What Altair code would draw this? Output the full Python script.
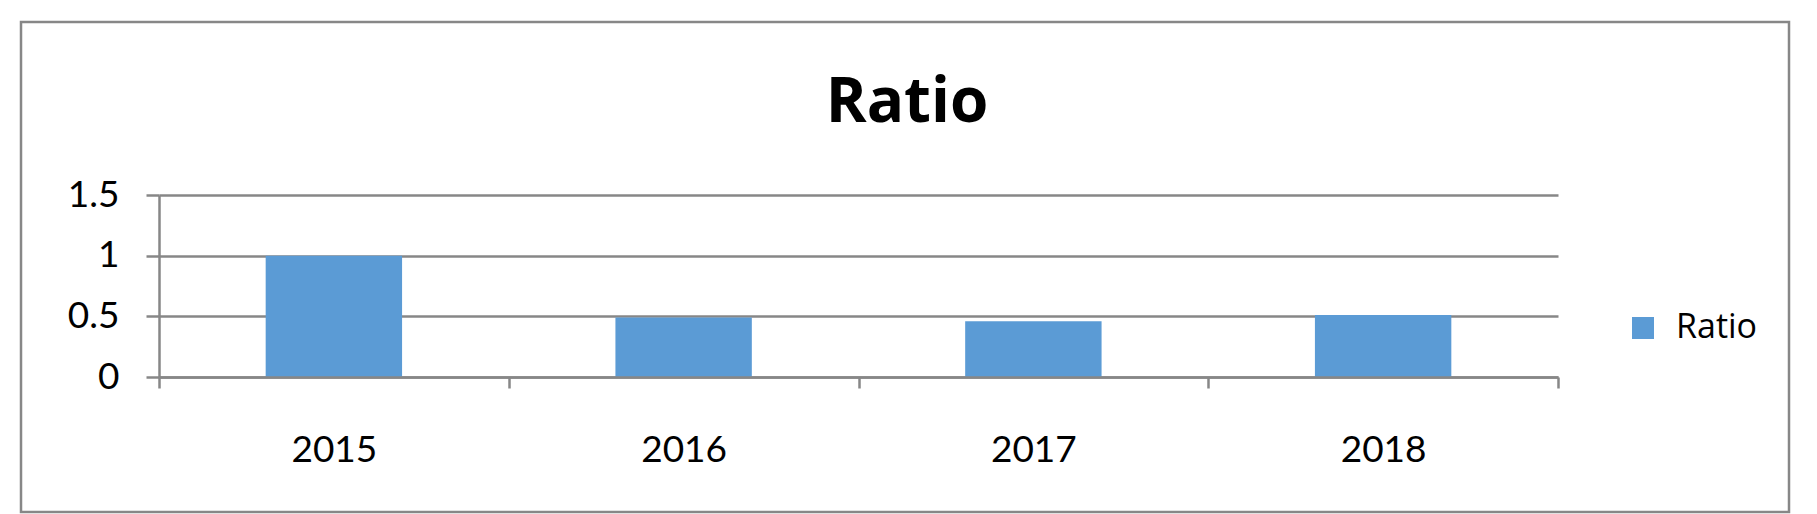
import altair as alt
import pandas as pd

years = ["2015", "2016", "2017", "2018"]
ratios = [1.0, 0.49, 0.46, 0.51]
series_name = "Ratio"
title_text = "Ratio"
y_ticks = [0, 0.5, 1, 1.5]

df = pd.DataFrame({"year": years, "ratio": ratios, "series": [series_name] * len(years)})
one = pd.DataFrame({"t": [title_text]})

GRAY = "#878787"
BLUE = "#5B9BD5"
FONT = "Lato"
WORD_FONT = "Open Sans"

bars = alt.Chart(df).mark_bar(width=alt.RelativeBandSize(0.39)).encode(
    x=alt.X(
        "year:O",
        title=None,
        scale=alt.Scale(paddingInner=0, paddingOuter=0),
        axis=alt.Axis(
            labelAngle=0, tickBand="extent", tickSize=11, tickColor=GRAY, tickWidth=2.5,
            domainColor=GRAY, domainWidth=2.5, labelFont=FONT, labelFontSize=37,
            labelColor="black", labelBaseline="alphabetic", labelPadding=73,
            grid=False, zindex=1,
        ),
    ),
    y=alt.Y(
        "ratio:Q",
        title=None,
        scale=alt.Scale(domain=[0, 1.5], nice=False),
        axis=alt.Axis(
            values=y_ticks, format="~g", tickSize=13, tickColor=GRAY, tickWidth=2.5,
            domainColor=GRAY, domainWidth=2.5, grid=True, gridColor=GRAY, gridWidth=2.5,
            labelFont=FONT, labelFontSize=37, labelColor="black", labelPadding=27,
        ),
    ),
    color=alt.Color(
        "series:N",
        scale=alt.Scale(range=[BLUE]),
        legend=alt.Legend(
            title=None, orient="none", legendX=1467, legendY=116, symbolType="square",
            symbolSize=484, symbolStrokeWidth=0, labelFont=WORD_FONT, labelFontSize=34,
            labelColor="black", labelOffset=16,
        ),
    ),
)

title = alt.Chart(one).mark_text(
    font=WORD_FONT, fontSize=62, fontWeight="bold", baseline="alphabetic", align="center", color="black"
).encode(text="t:N", x=alt.value(748), y=alt.value(-73))

border = alt.Chart(one).mark_rect(fillOpacity=0, stroke=GRAY, strokeWidth=2.5).encode(
    x=alt.value(-138), x2=alt.value(1630), y=alt.value(-173), y2=alt.value(317)
)

chart = alt.layer(border, bars, title).properties(
    width=1399,
    height=182,
    padding={"left": 151, "top": 187, "right": 251, "bottom": 137},
    autosize=alt.AutoSizeParams(type="none"),
).configure_view(stroke=None)

chart.save("out.html", embed_options={"renderer": "svg", "actions": False})
